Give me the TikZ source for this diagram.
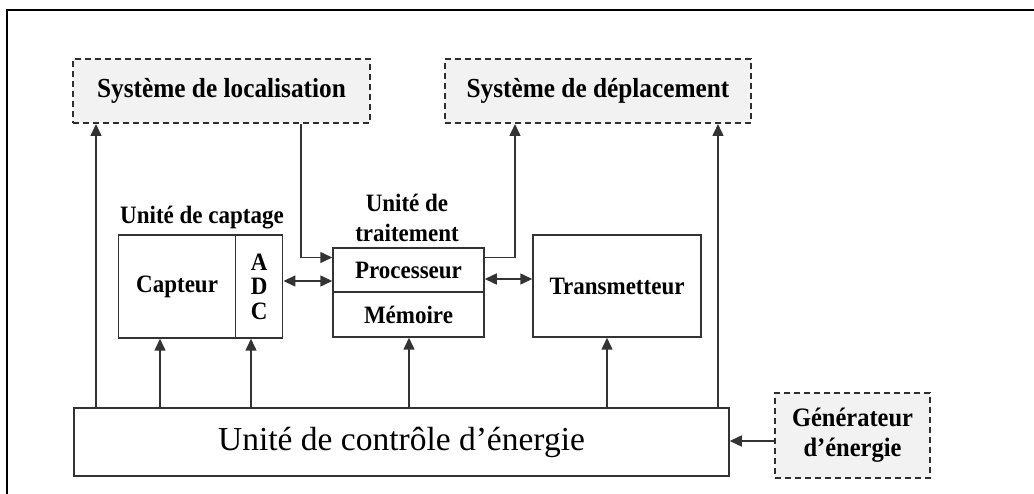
\documentclass[tikz,border=0pt]{standalone}
\usepackage{fontspec}
\setmainfont{Liberation Serif}
% slightly narrowed bold face for the block labels
\newfontfamily\labelfont[FakeStretch=0.92]{Liberation Serif}
\usetikzlibrary{arrows.meta}
\definecolor{linegray}{HTML}{333333}
\definecolor{dashgray}{HTML}{2E2E2E}
\definecolor{extfill}{HTML}{F2F2F2}
\begin{document}
\begin{tikzpicture}[x=1pt,y=-1pt,
  lbl/.style={font=\labelfont\bfseries\fontsize{25}{31}\selectfont, align=center, inner sep=0pt},
  box/.style={draw=linegray, line width=1.5pt, inner sep=0pt, lbl},
  ext/.style={draw=dashgray, line width=2pt, dash pattern=on 6pt off 4pt,
              fill=extfill, inner sep=0pt, align=center},
  tip/.tip={Triangle[length=12pt,width=11pt]},
  arr/.style={draw=linegray, line width=1.5pt, -tip},
  dbl/.style={draw=linegray, line width=1.5pt, tip-tip},
]
\useasboundingbox (0,0) rectangle (1034,494);

% outer frame (left and top edges)
\draw[line width=2.2pt, line cap=rect] (7,494) -- (7,10) -- (1034,10);

% external systems (dashed)
\node[ext, minimum width=297pt, minimum height=64pt,
      font=\labelfont\bfseries\fontsize{27.5}{30}\selectfont] (loc) at (221.5,91) {Système de localisation};
\node[ext, minimum width=306pt, minimum height=64pt,
      font=\labelfont\bfseries\fontsize{27.5}{30}\selectfont] (dep) at (598,91) {Système de déplacement};
\node[ext, minimum width=155pt, minimum height=85pt,
      font=\labelfont\bfseries\fontsize{26.6}{30}\selectfont] (gen) at (852.5,435.5) {Générateur\\d’énergie};

% sensing unit
\node[box, minimum width=117.2pt, minimum height=103pt] (capt) at (177.1,286.5) {Capteur};
\node[box, minimum width=47pt, minimum height=103pt,
      font=\labelfont\bfseries\fontsize{25}{24.5}\selectfont] (adc) at (259.2,286.5) {A\\D\\C};
\node[lbl] (tcapt) at (202,218) {Unité de captage};

% processing unit
\node[box, minimum width=151pt, minimum height=44pt] (proc) at (408.5,270) {Processeur};
\node[box, minimum width=151pt, minimum height=45pt] (mem) at (408.5,314.5) {Mémoire};
\node[lbl, font=\labelfont\bfseries\fontsize{25}{30}\selectfont] (ttrait) at (407,218) {Unité de\\traitement};

% transmitter
\node[box, minimum width=168pt, minimum height=102pt] (trans) at (617,286) {Transmetteur};

% power control unit
\node[box, minimum width=655pt, minimum height=68pt,
      font=\fontsize{33.5}{36}\selectfont] (energy) at (401.5,442) {Unité de contrôle d’énergie};

% reference positions for the connectors
\coordinate (xa) at (96,0);
\coordinate (xb) at (301,0);
\coordinate (xc) at (515,0);
\coordinate (xd) at (718,0);
\coordinate (xe) at (160,0);
\coordinate (xf) at (251,0);
\coordinate (xg) at (409,0);
\coordinate (xh) at (607,0);
\coordinate (ya) at (0,257.5);
\coordinate (yb) at (0,281);
\coordinate (yc) at (0,279);
\coordinate (yd) at (0,441);

% power distribution
\draw[arr] (xa |- energy.north) -- (xa |- loc.south);
\draw[arr] (xd |- energy.north) -- (xd |- dep.south);
\draw[arr] (xe |- energy.north) -- (xe |- capt.south);
\draw[arr] (xf |- energy.north) -- (xf |- adc.south);
\draw[arr] (xg |- energy.north) -- (xg |- mem.south);
\draw[arr] (xh |- energy.north) -- (xh |- trans.south);
\draw[arr] (gen.west |- yd) -- (energy.east |- yd);

% data paths
\draw[arr] (xb |- loc.south) |- (proc.west |- ya);
\draw[arr] (proc.east |- ya) -| (xc |- dep.south);
\draw[dbl] (adc.east |- yb) -- (proc.west |- yb);
\draw[dbl] (proc.east |- yc) -- (trans.west |- yc);
\end{tikzpicture}
\end{document}
